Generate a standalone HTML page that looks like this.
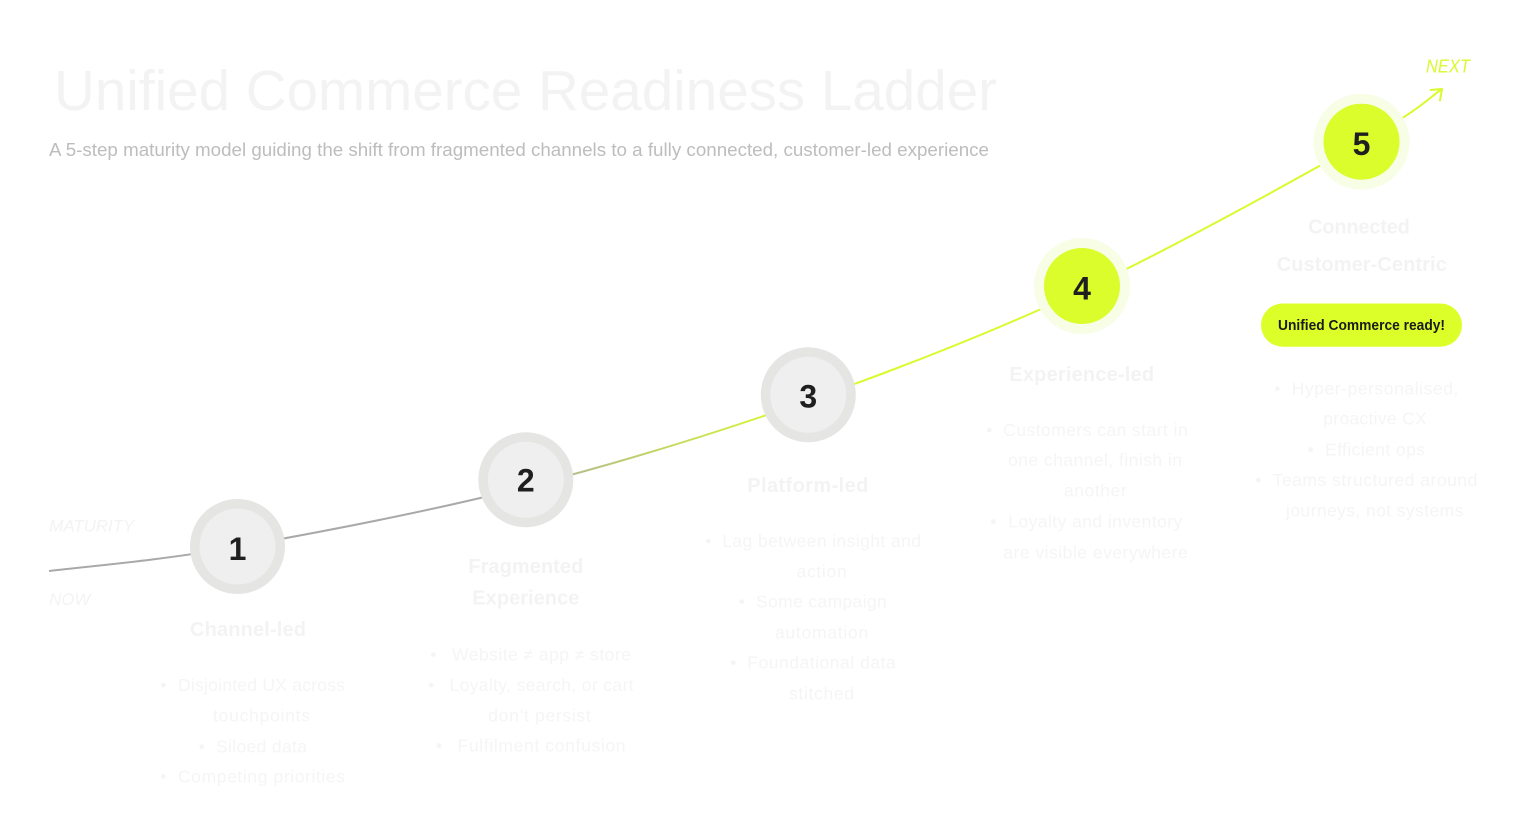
<!DOCTYPE html>
<html>
<head>
<meta charset="utf-8">
<style>
  html,body{margin:0;padding:0;background:#ffffff;}
  body{width:1536px;height:840px;overflow:hidden;}
  svg{display:block;}
  .ff{font-family:"Liberation Sans", Arial, sans-serif;}
  .st{font-weight:bold;font-size:20px;fill:#f3f3f3;}
  .bl{font-size:17.5px;fill:#f5f5f5;}
  .num{font-weight:bold;font-size:32px;fill:#1f1f1f;}
</style>
</head>
<body>
<svg width="1536" height="840" viewBox="0 0 1536 840" xmlns="http://www.w3.org/2000/svg" class="ff">
  <defs>
    <linearGradient id="lg" gradientUnits="userSpaceOnUse" x1="500" y1="0" x2="790" y2="0">
      <stop offset="0" stop-color="#a9a9a9"/>
      <stop offset="1" stop-color="#d9fa2c"/>
    </linearGradient>
  </defs>
  <rect x="0" y="0" width="1536" height="840" fill="#ffffff"/>

  <!-- Title -->
  <text x="54" y="110" font-size="57" fill="#f3f3f3" textLength="943" lengthAdjust="spacingAndGlyphs">Unified Commerce Readiness Ladder</text>
  <text x="49" y="156" font-size="18.5" fill="#bdbdbd" textLength="940" lengthAdjust="spacingAndGlyphs">A 5-step maturity model guiding the shift from fragmented channels to a fully connected, customer-led experience</text>

  <!-- Axis labels -->
  <text x="49.3" y="531.7" font-size="17" font-style="italic" fill="#f3f3f3" textLength="85" lengthAdjust="spacingAndGlyphs">MATURITY</text>
  <text x="49.3" y="605" font-size="17" font-style="italic" fill="#f3f3f3" textLength="41" lengthAdjust="spacingAndGlyphs">NOW</text>
  <text x="1426" y="72.3" font-size="18" font-style="italic" fill="#d9fa2c" textLength="44" lengthAdjust="spacingAndGlyphs">NEXT</text>

  <!-- Curve -->
  <path d="M49,571 C80.4,567 157.8,560.9 237.5,546.8 C317.2,532.7 431.6,511 527,486.5 C622.4,462 717.2,432.8 810,400 C902.8,367.2 992,332.5 1084,289.5 C1176,246.5 1302.3,175.6 1362,142.2 C1421.7,108.8 1428.7,97.9 1442,89"
        fill="none" stroke="url(#lg)" stroke-width="2"/>
  <polyline points="1430.5,90 1442,89 1440,100.5" fill="none" stroke="#d9fa2c" stroke-width="2" stroke-linecap="round" stroke-linejoin="round"/>

  <!-- Circles -->
  <circle cx="237.5" cy="546.5" r="47.5" fill="#e5e5e4"/>
  <circle cx="237.5" cy="546.5" r="38" fill="#efefef"/>
  <text x="237.5" y="560" text-anchor="middle" class="num">1</text>

  <circle cx="525.8" cy="479.8" r="47.5" fill="#e5e5e4"/>
  <circle cx="525.8" cy="479.8" r="38" fill="#efefef"/>
  <text x="525.8" y="491.7" text-anchor="middle" class="num">2</text>

  <circle cx="808.3" cy="394.8" r="47.5" fill="#e5e5e4"/>
  <circle cx="808.3" cy="394.8" r="38" fill="#efefef"/>
  <text x="808.3" y="407.5" text-anchor="middle" class="num">3</text>

  <circle cx="1082" cy="286" r="48" fill="#f8fde6"/>
  <circle cx="1082" cy="286" r="38" fill="#dbfd2c"/>
  <text x="1082" y="299.3" text-anchor="middle" class="num">4</text>

  <circle cx="1361.5" cy="141.7" r="48" fill="#f8fde6"/>
  <circle cx="1361.5" cy="141.7" r="38" fill="#dbfd2c"/>
  <text x="1361.5" y="155" text-anchor="middle" class="num">5</text>

  <!-- Stage 1 -->
  <text x="248" y="636" text-anchor="middle" class="st" textLength="116">Channel-led</text>
  <text x="163.3" y="691" text-anchor="middle" class="bl">•</text>
  <text x="261.5" y="691" text-anchor="middle" class="bl" textLength="167">Disjointed UX across</text>
  <text x="261.5" y="721.7" text-anchor="middle" class="bl" textLength="97">touchpoints</text>
  <text x="201.7" y="752.7" text-anchor="middle" class="bl">•</text>
  <text x="261.5" y="752.7" text-anchor="middle" class="bl" textLength="91">Siloed data</text>
  <text x="163.3" y="782.7" text-anchor="middle" class="bl">•</text>
  <text x="261.5" y="782.7" text-anchor="middle" class="bl" textLength="167">Competing priorities</text>

  <!-- Stage 2 -->
  <text x="525.8" y="573" text-anchor="middle" class="st" textLength="115">Fragmented</text>
  <text x="525.8" y="604.3" text-anchor="middle" class="st" textLength="107">Experience</text>
  <text x="433.3" y="660.3" text-anchor="middle" class="bl">•</text>
  <text x="541.5" y="660.3" text-anchor="middle" class="bl" textLength="178.7">Website ≠ app ≠ store</text>
  <text x="431" y="691" text-anchor="middle" class="bl">•</text>
  <text x="541.5" y="691" text-anchor="middle" class="bl" textLength="184">Loyalty, search, or cart</text>
  <text x="539.5" y="721.7" text-anchor="middle" class="bl" textLength="102.4">don’t persist</text>
  <text x="439" y="751.7" text-anchor="middle" class="bl">•</text>
  <text x="541.5" y="751.7" text-anchor="middle" class="bl" textLength="168">Fulfilment confusion</text>

  <!-- Stage 3 -->
  <text x="807.8" y="492" text-anchor="middle" class="st" textLength="121">Platform-led</text>
  <text x="708.3" y="547" text-anchor="middle" class="bl">•</text>
  <text x="821.6" y="547" text-anchor="middle" class="bl" textLength="198.7">Lag between insight and</text>
  <text x="821.6" y="577.7" text-anchor="middle" class="bl" textLength="50">action</text>
  <text x="741.7" y="607.7" text-anchor="middle" class="bl">•</text>
  <text x="821.4" y="607.7" text-anchor="middle" class="bl" textLength="130.7">Some campaign</text>
  <text x="821.6" y="638.7" text-anchor="middle" class="bl" textLength="93.3">automation</text>
  <text x="733.3" y="668.7" text-anchor="middle" class="bl">•</text>
  <text x="821.5" y="668.7" text-anchor="middle" class="bl" textLength="148.4">Foundational data</text>
  <text x="821.5" y="699.3" text-anchor="middle" class="bl" textLength="65">stitched</text>

  <!-- Stage 4 -->
  <text x="1081.7" y="381" text-anchor="middle" class="st" textLength="144.7">Experience-led</text>
  <text x="989.3" y="436" text-anchor="middle" class="bl">•</text>
  <text x="1095.5" y="436" text-anchor="middle" class="bl" textLength="184.4">Customers can start in</text>
  <text x="1095" y="466" text-anchor="middle" class="bl" textLength="174">one channel, finish in</text>
  <text x="1095.3" y="496.7" text-anchor="middle" class="bl" textLength="62.7">another</text>
  <text x="993.3" y="527.7" text-anchor="middle" class="bl">•</text>
  <text x="1095.3" y="527.7" text-anchor="middle" class="bl" textLength="174">Loyalty and inventory</text>
  <text x="1095.5" y="558.3" text-anchor="middle" class="bl" textLength="184.4">are visible everywhere</text>

  <!-- Stage 5 -->
  <text x="1359" y="233.7" text-anchor="middle" class="st" textLength="101.7">Connected</text>
  <text x="1361.7" y="271" text-anchor="middle" class="st" textLength="170">Customer-Centric</text>
  <rect x="1261" y="303.5" width="201" height="43.2" rx="21.6" ry="21.6" fill="#dcff2a"/>
  <text x="1361.5" y="330.2" text-anchor="middle" font-size="14.5" font-weight="bold" fill="#1a1a1a" textLength="167" lengthAdjust="spacingAndGlyphs">Unified Commerce ready!</text>
  <text x="1277.3" y="394.3" text-anchor="middle" class="bl">•</text>
  <text x="1375" y="394.3" text-anchor="middle" class="bl" textLength="166.6">Hyper-personalised,</text>
  <text x="1375" y="424.3" text-anchor="middle" class="bl" textLength="103.4">proactive CX</text>
  <text x="1310.7" y="455.3" text-anchor="middle" class="bl">•</text>
  <text x="1375" y="455.3" text-anchor="middle" class="bl" textLength="100">Efficient ops</text>
  <text x="1258.3" y="486" text-anchor="middle" class="bl">•</text>
  <text x="1375" y="486" text-anchor="middle" class="bl" textLength="204.6">Teams structured around</text>
  <text x="1374.7" y="516.7" text-anchor="middle" class="bl" textLength="177.3">journeys, not systems</text>
</svg>
</body>
</html>
